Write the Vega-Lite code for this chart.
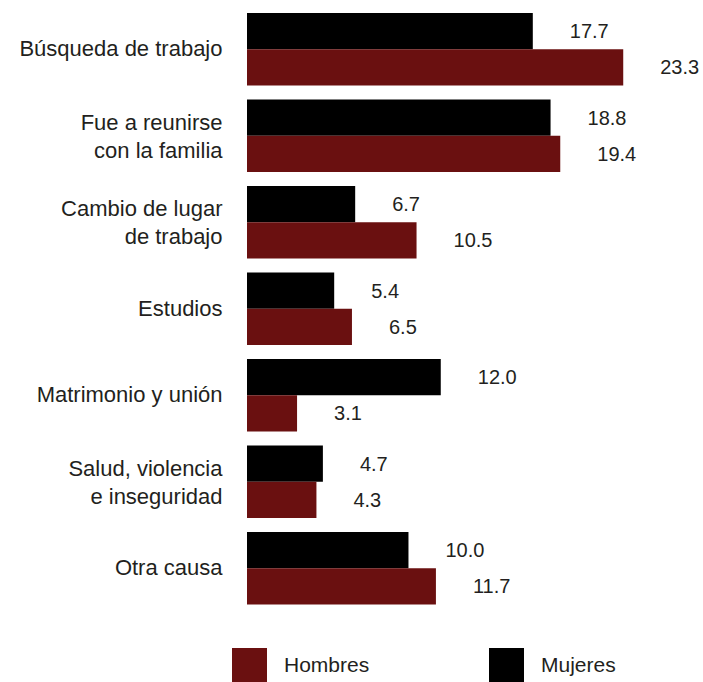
{
  "$schema": "https://vega.github.io/schema/vega-lite/v6.json",
  "width": 456,
  "height": 605.5,
  "autosize": {"type": "none"},
  "padding": {"left": 247, "top": 6, "right": 0, "bottom": 70.5},
  "background": "white",
  "config": {"view": {"stroke": null}, "font": "Liberation Sans"},
  "data": {
    "values": [
      {"causa": "Búsqueda de trabajo", "sexo": "Mujeres", "valor": 17.7},
      {"causa": "Búsqueda de trabajo", "sexo": "Hombres", "valor": 23.3},
      {"causa": "Fue a reunirse|con la familia", "sexo": "Mujeres", "valor": 18.8},
      {"causa": "Fue a reunirse|con la familia", "sexo": "Hombres", "valor": 19.4},
      {"causa": "Cambio de lugar|de trabajo", "sexo": "Mujeres", "valor": 6.7},
      {"causa": "Cambio de lugar|de trabajo", "sexo": "Hombres", "valor": 10.5},
      {"causa": "Estudios", "sexo": "Mujeres", "valor": 5.4},
      {"causa": "Estudios", "sexo": "Hombres", "valor": 6.5},
      {"causa": "Matrimonio y unión", "sexo": "Mujeres", "valor": 12.0},
      {"causa": "Matrimonio y unión", "sexo": "Hombres", "valor": 3.1},
      {"causa": "Salud, violencia|e inseguridad", "sexo": "Mujeres", "valor": 4.7},
      {"causa": "Salud, violencia|e inseguridad", "sexo": "Hombres", "valor": 4.3},
      {"causa": "Otra causa", "sexo": "Mujeres", "valor": 10.0},
      {"causa": "Otra causa", "sexo": "Hombres", "valor": 11.7}
    ]
  },
  "encoding": {
    "y": {
      "field": "causa",
      "type": "nominal",
      "sort": null,
      "scale": {"paddingInner": 0.162, "paddingOuter": 0.081},
      "axis": {
        "title": null,
        "domain": false,
        "ticks": false,
        "tickSize": 0,
        "labelPadding": 25,
        "labelFontSize": 22,
        "labelColor": "#231f20",
        "labelExpr": "split(datum.label, '|')",
        "labelLineHeight": 28,
        "labelLimit": 300,
        "labelOffset": {
          "condition": {"test": "indexof(datum.value, '|') >= 0", "value": -13},
          "value": 0
        }
      }
    },
    "yOffset": {"field": "sexo", "type": "nominal", "sort": ["Mujeres", "Hombres"]},
    "x": {
      "field": "valor",
      "type": "quantitative",
      "scale": {"domain": [0, 28.24]},
      "axis": null
    }
  },
  "layer": [
    {
      "mark": {"type": "bar"},
      "encoding": {
        "color": {
          "field": "sexo",
          "type": "nominal",
          "scale": {"domain": ["Hombres", "Mujeres"], "range": ["#6a1010", "#000000"]},
          "legend": {
            "title": null,
            "orient": "none",
            "legendX": -15,
            "legendY": 642,
            "direction": "horizontal",
            "symbolType": "square",
            "symbolSize": 1225,
            "symbolStrokeWidth": 0,
            "symbolOpacity": 1,
            "labelFontSize": 21,
            "labelOffset": 17,
            "labelColor": "#231f20",
            "columnPadding": 119,
            "padding": 0
          }
        }
      }
    },
    {
      "mark": {
        "type": "text",
        "align": "left",
        "baseline": "middle",
        "dx": 37,
        "dy": 1,
        "fontSize": 20,
        "color": "#231f20"
      },
      "encoding": {"text": {"field": "valor", "type": "quantitative", "format": ".1f"}}
    }
  ]
}
